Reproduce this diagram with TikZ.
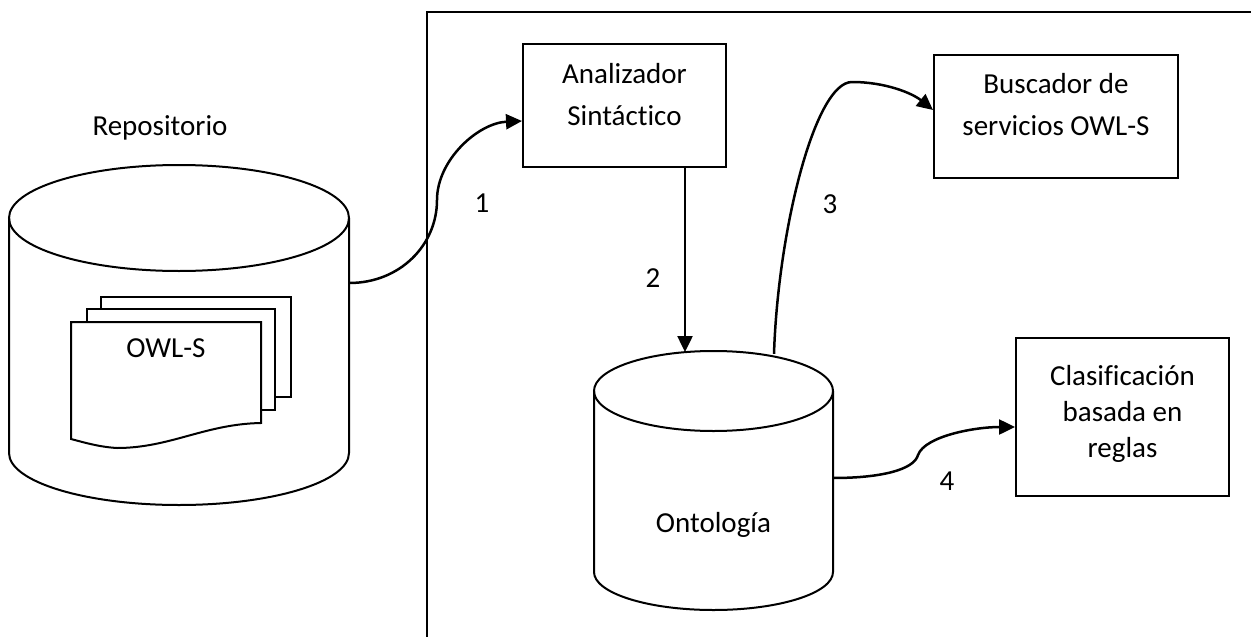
\documentclass[tikz,border=0pt]{standalone}
\usepackage{fontspec}
\setmainfont[Ligatures=NoCommon]{Carlito}
\usetikzlibrary{arrows.meta}
\begin{document}
\begin{tikzpicture}[x=1pt,y=1pt,
  outline/.style={line width=2pt, draw=black},
  procbox/.style={outline, rectangle, inner sep=0pt},
  hole/.style={rectangle, inner sep=0pt, minimum width=#1},
  txt/.style={font=\fontsize{29}{42}\selectfont, inner sep=0pt, align=center},
  num/.style={font=\fontsize{29}{35}\selectfont, inner sep=0pt, anchor=base},
  flow/.style={line width=2.5pt, -{Triangle[length=16pt,width=15pt]}}
]
\clip (0,0) rectangle (1251,-637);
\fill[white] (0,0) rectangle (1251,-637);

% system frame, open to the right and below
\draw[outline] (427,-700) -- (427,-11.5) -- (1300,-11.5);

% repository drum
\node[hole=340pt, minimum height=340pt] (repo) at (179,-335) {};
\draw[outline, fill=white] (9,-218) -- (9,-453)
  arc[start angle=180, end angle=360, x radius=170, y radius=52] -- (349,-218);
\draw[outline] (179,-218) ellipse [x radius=170, y radius=53];
\node[txt, anchor=base] (repolbl) at (160,-135) {Repositorio};

% stacked OWL-S documents
\draw[outline, fill=white] (101,-297) rectangle (291,-397);
\draw[outline, fill=white] (87,-309) rectangle (275,-410);
\draw[outline, fill=white] (71,-322) -- (261,-322) -- (261,-423)
  .. controls (205,-424) and (170,-448) .. (117,-448)
  .. controls (100,-447) and (86,-443) .. (71,-439) -- cycle;
\node[txt, anchor=base] (docs) at (166,-357) {OWL-S};

% ontology drum
\node[hole=239pt, minimum height=259pt] (onto) at (713.5,-480.5) {};
\draw[outline, fill=white] (594,-391) -- (594,-572)
  arc[start angle=180, end angle=360, x radius=119.5, y radius=38] -- (833,-391);
\draw[outline] (713.5,-391) ellipse [x radius=119.5, y radius=40];
\node[txt, anchor=base] (ontolbl) at (713.5,-532) {Ontología};

% processing boxes (text anchored on the baseline of its last line)
\node[procbox, minimum width=203pt, minimum height=123pt] (anal) at (624.5,-105.5) {};
\node[txt, anchor=base] (analtxt) at (624.5,-125) {Analizador\\Sintáctico};

\node[procbox, minimum width=244pt, minimum height=123pt] (busc) at (1056,-116.5) {};
\node[txt, anchor=base] (busctxt) at (1056,-135) {Buscador de\\servicios OWL-S};

\node[procbox, minimum width=213pt, minimum height=158pt] (clas) at (1122.5,-417) {};
\node[txt, anchor=base, font=\fontsize{29}{36}\selectfont] (clastxt) at (1122.5,-457)
  {Clasificación\\basada en\\reglas};

% numbered flows
\draw[flow] ([yshift=52pt]repo.east)
  .. controls (400,-283) and (437,-245) .. (437,-200)
  .. controls (437,-160) and (478,-123) .. ([yshift=-15.5pt]anal.west);
\node[num] (n1) at (482,-212) {1};

\draw[flow] ([xshift=60.5pt]anal.south) -- ([xshift=-28.5pt,yshift=-1.2pt]onto.north);
\node[num] (n2) at (653,-287) {2};

\draw[flow] ([xshift=60.5pt,yshift=-3pt]onto.north)
  .. controls (778,-230) and (815,-82) .. (852,-82)
  .. controls (885,-82) and (912,-93) .. ([yshift=6.5pt]busc.west);
\node[num] (n3) at (830,-213) {3};

\draw[flow] ([yshift=2.5pt]onto.east)
  .. controls (880,-478) and (914,-470) .. (918,-455)
  .. controls (925,-436) and (975,-427) .. ([yshift=-10pt]clas.west);
\node[num] (n4) at (947,-490) {4};
\end{tikzpicture}
\end{document}
